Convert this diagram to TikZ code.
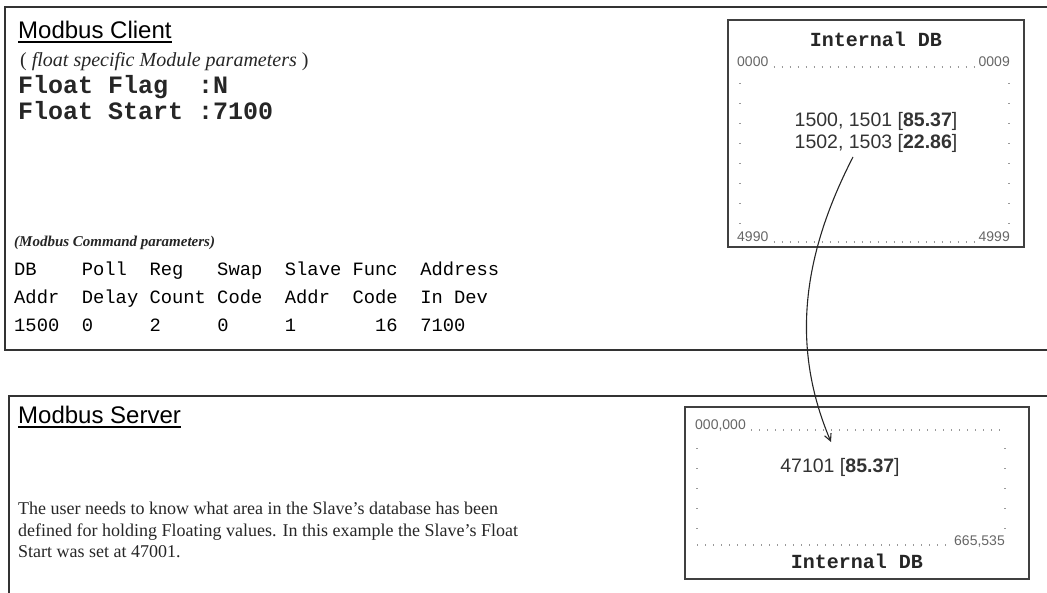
\documentclass[tikz,border=0pt]{standalone}
\usepackage{fontspec}
\setmainfont{Liberation Serif}
\setsansfont{Liberation Sans}
\setmonofont{Liberation Mono}
\usetikzlibrary{arrows.meta}

\begin{document}
\begin{tikzpicture}[x=1pt,y=-1pt,>={Straight Barb[length=7pt,width=7pt]},
  frame/.style={line width=1.8pt,black!80},
  dbframe/.style={line width=1.5pt,black!75},
  dots/.style={gray!80,line width=1.2pt,dash pattern=on 1.2pt off 6.8pt},
  vdots/.style={gray!80,line width=1.2pt,dash pattern=on 1.2pt off 18.8pt},
  lbl/.style={inner sep=0pt,anchor=base west,text=black!85},
  heading/.style={lbl,text=black,font=\sffamily\fontsize{24}{28}\selectfont},
  mono/.style={lbl,text=black,font=\ttfamily\fontsize{18.8}{22}\selectfont},
  addr/.style={inner sep=0pt,text=black!60,font=\sffamily\fontsize{14}{16}\selectfont},
  value/.style={inner sep=0pt,anchor=base,text=black!80,font=\sffamily\fontsize{19.5}{22}\selectfont},
  dbtitle/.style={inner sep=0pt,anchor=base,text=black!85,font=\ttfamily\bfseries\fontsize{20}{24}\selectfont}]

  \useasboundingbox (0,0) rectangle (1047,593);

  % Modbus client panel
  \draw[frame] (1047,7) -- (5,7) -- (5,350) -- (1047,350);
  \node[heading] (client) at (18,39) {Modbus Client};
  \draw[line width=1.2pt] ([yshift=-3pt]client.base west) -- ([yshift=-3pt]client.base east);
  \node[lbl,font=\fontsize{20}{24}\selectfont] (floatnote) at (20,67) {(\hspace{5pt}\textit{float specific Module parameters}\hspace{5pt})};
  \node[lbl,font=\ttfamily\bfseries\fontsize{25}{28}\selectfont] (flag) at (18,94) {Float~Flag~~:N};
  \node[lbl,font=\ttfamily\bfseries\fontsize{25}{28}\selectfont] (start) at (18,120) {Float~Start~:7100};

  % Command parameters
  \node[lbl,font=\bfseries\itshape\fontsize{15}{18}\selectfont] (cmdnote) at (14,247) {(Modbus Command parameters)};
  \node[mono] (row1) at (14,276) {DB~~~~Poll~~Reg~~~Swap~~Slave~Func~~Address};
  \node[mono] (row2) at (14,304) {Addr~~Delay~Count~Code~~Addr~~Code~~In~Dev};
  \node[mono] (row3) at (14,332) {1500~~0~~~~~2~~~~~0~~~~~1~~~~~~~16~~7100};

  % Client internal DB
  \draw[dbframe] (728,20) rectangle (1024,247);
  \node[dbtitle] (cdb) at (876,47) {Internal DB};
  \node[addr,anchor=base west] (clo) at (737,67) {0000};
  \node[addr,anchor=base east] (chi) at (1010,67) {0009};
  \node[addr,anchor=base west] (clo2) at (737,242) {4990};
  \node[addr,anchor=base east] (chi2) at (1010,242) {4999};
  \draw[dots] ([xshift=5pt]clo.base east) -- ([xshift=-3pt]chi.base west);
  \draw[dots] ([xshift=5pt]clo2.base east) -- ([xshift=-3pt]chi2.base west);
  \draw[vdots] (740,83) -- (740,225);
  \draw[vdots] (1009,83) -- (1009,225);
  \node[value] (reg1) at (876,127) {1500, 1501 [\textbf{85.37}]};
  \node[value] (reg2) at (876,149) {1502, 1503 [\textbf{22.86}]};

  % Modbus server panel
  \draw[frame] (1047,396) -- (9,396) -- (9,593);
  \node[heading] (server) at (18,424) {Modbus Server};
  \draw[line width=1.2pt] ([yshift=-3pt]server.base west) -- ([yshift=-3pt]server.base east);
  \node[anchor=north west,inner sep=0pt,align=left,text=black!85,font=\fontsize{18}{21.5}\selectfont] (note) at (18,502)
    {The user needs to know what area in the Slave’s database has been\\defined for holding Floating values. In this example the Slave’s Float\\Start was set at 47001.};

  % Server internal DB
  \draw[dbframe] (685,407) rectangle (1029,579);
  \node[addr,anchor=base west] (slo) at (695,430) {000,000};
  \node[addr,anchor=base east] (shi) at (1005,545) {665,535};
  \draw[dots] ([xshift=5pt]slo.base east) -- (1005,430);
  \draw[dots] (697,545) -- ([xshift=-3pt]shi.base west);
  \draw[vdots] (697,448) -- (697,530);
  \draw[vdots] (1005,448) -- (1005,530);
  \node[value] (sreg) at (840,472) {47101 [\textbf{85.37}]};
  \node[dbtitle] (sdb) at (857,568) {Internal DB};

  % Float value mapping
  \coordinate (src) at (853,157);
  \coordinate (dst) at (831,442);
  \draw[->,line width=1.1pt,black!85] (src) .. controls (800,260) and (792,350) .. (dst);
\end{tikzpicture}
\end{document}
